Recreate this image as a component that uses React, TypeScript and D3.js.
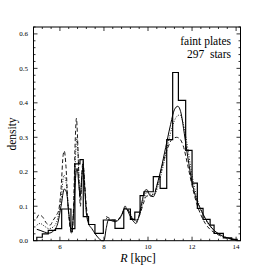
import React, { useEffect, useRef } from "react";
import * as d3 from "d3";

// histogram of the star sample (bin edges in kpc, density per bin)
const binEdges = [4.95, 5.2, 5.47, 5.8, 6.08, 6.5, 6.68, 6.91, 7.06, 7.3, 7.59, 7.97, 8.5, 8.9, 9.2, 9.4, 9.64, 9.82, 10.24, 10.55, 10.85, 11.12, 11.38, 11.71, 12.0, 12.24, 12.5, 12.82, 13.0, 13.42, 13.8, 14.05];
const binHeights = [0.01, 0.02, 0.03, 0.035, 0.092, 0.035, 0.223, 0.235, 0.07, 0.047, 0.021, 0.06, 0.036, 0.092, 0.062, 0.083, 0.131, 0.142, 0.186, 0.152, 0.293, 0.488, 0.407, 0.262, 0.167, 0.094, 0.062, 0.045, 0.021, 0.008, 0.004];

// smooth estimate (solid)
const solidR = [4.95, 5.1, 5.3, 5.5, 5.7, 5.9, 6.05, 6.2, 6.3, 6.42, 6.53, 6.62, 6.72, 6.78, 6.85, 6.92, 7.0, 7.05, 7.12, 7.2, 7.3, 7.45, 7.6, 7.75, 7.9, 8.0, 8.1, 8.2, 8.35, 8.5, 8.65, 8.8, 8.95, 9.05, 9.2, 9.35, 9.45, 9.6, 9.75, 9.85, 9.95, 10.1, 10.25, 10.4, 10.6, 10.8, 11.0, 11.2, 11.35, 11.5, 11.65, 11.8, 12.0, 12.2, 12.4, 12.6, 12.8, 13.0, 13.2, 13.5, 13.8, 14.0];
const solidD = [0.033, 0.03, 0.025, 0.022, 0.028, 0.05, 0.1, 0.15, 0.14, 0.07, 0.025, 0.08, 0.19, 0.21, 0.17, 0.13, 0.19, 0.215, 0.16, 0.08, 0.05, 0.035, 0.02, 0.008, 0.0, 0.0, 0.035, 0.06, 0.058, 0.055, 0.06, 0.075, 0.095, 0.09, 0.07, 0.055, 0.05, 0.075, 0.12, 0.145, 0.148, 0.13, 0.128, 0.16, 0.21, 0.27, 0.33, 0.38, 0.39, 0.37, 0.31, 0.245, 0.17, 0.12, 0.09, 0.065, 0.045, 0.03, 0.02, 0.01, 0.005, 0.002];

// dashed estimate (null = no value)
const dashR = [4.95, 5.05, 5.2, 5.4, 5.55, 5.7, 5.85, 5.95, 6.05, 6.15, 6.2, 6.27, 6.37, 6.48, 6.55, 6.62, 6.7, 6.75, 6.8, 6.88, 6.93, 7.0, 7.05, 7.12, 7.2, 7.3, 7.7, 8.1, 8.25, 8.4, 8.55, 8.7, 8.85, 8.95, 9.05, 9.2, 9.35, 9.5, 9.65, 9.8, 9.95, 10.1, 10.3, 10.5, 10.7, 10.9, 11.1, 11.3, 11.45, 11.6, 11.8, 12.0, 12.2, 12.4, 12.6, 12.8, 13.0, 13.25, 13.6, 14.0];
const dashD = [0.065, 0.075, 0.07, 0.05, 0.045, 0.06, 0.075, 0.09, 0.15, 0.25, 0.26, 0.22, 0.1, 0.03, 0.02, 0.1, 0.3, 0.355, 0.3, 0.15, 0.1, 0.2, 0.23, 0.17, 0.1, 0.06, null, 0.07, 0.065, 0.06, 0.06, 0.065, 0.08, 0.1, 0.095, 0.075, 0.06, 0.06, 0.08, 0.11, 0.13, 0.13, 0.14, 0.18, 0.23, 0.27, 0.295, 0.3, 0.295, 0.275, 0.22, 0.16, 0.11, 0.075, 0.05, 0.034, 0.024, 0.015, 0.007, 0.002];

// dotted estimate
const dotR = [4.95, 5.1, 5.3, 5.5, 5.7, 5.9, 6.05, 6.18, 6.28, 6.4, 6.53, 6.62, 6.72, 6.77, 6.83, 6.92, 7.0, 7.05, 7.12, 7.2, 7.3, 7.7, 8.1, 8.3, 8.5, 8.7, 8.85, 8.95, 9.1, 9.3, 9.45, 9.6, 9.8, 9.95, 10.1, 10.3, 10.5, 10.7, 10.9, 11.1, 11.3, 11.45, 11.6, 11.8, 12.0, 12.2, 12.4, 12.6, 12.8, 13.0, 13.3, 13.6, 14.0];
const dotD = [0.045, 0.05, 0.042, 0.035, 0.04, 0.065, 0.12, 0.19, 0.17, 0.08, 0.025, 0.09, 0.26, 0.3, 0.24, 0.12, 0.19, 0.22, 0.16, 0.09, 0.055, null, 0.065, 0.06, 0.058, 0.062, 0.08, 0.095, 0.09, 0.065, 0.055, 0.07, 0.12, 0.14, 0.135, 0.135, 0.17, 0.22, 0.28, 0.33, 0.36, 0.365, 0.34, 0.27, 0.19, 0.13, 0.09, 0.062, 0.043, 0.03, 0.017, 0.009, 0.003];

const xMajor = [6, 8, 10, 12, 14];
const yMajor = [0.0, 0.1, 0.2, 0.3, 0.4, 0.5, 0.6];
const annotation = ["faint plates", "297  stars"];

const App = () => {
  const svgRef = useRef<SVGSVGElement>(null);

  useEffect(() => {
    const svg = d3.select(svgRef.current);
    svg.selectAll("*").remove();

    const left = 33.5, right = 240.5, top = 27, bottom = 240.7;
    const x = d3.scaleLinear().domain([4.8, 14.2]).range([left, right]);
    const y = d3.scaleLinear().domain([0, 0.62]).range([bottom, top]);
    const font = "'Liberation Serif', serif";

    // frame
    svg.append("rect")
      .attr("x", left).attr("y", top)
      .attr("width", right - left).attr("height", bottom - top)
      .attr("fill", "none").attr("stroke", "#000").attr("stroke-width", 1);

    // ticks on all sides, pointing in
    const xMinor = d3.range(4.8, 14.21, 0.4).filter((v) => !xMajor.some((m) => Math.abs(m - v) < 1e-6));
    const yMinor = d3.range(0, 0.621, 0.02).filter((v) => !yMajor.some((m) => Math.abs(m - v) < 1e-6));
    const ticks = svg.append("g").attr("stroke", "#000").attr("stroke-width", 0.8);
    const xt = [...xMajor.map((v) => [v, 4]), ...xMinor.map((v) => [v, 2])];
    xt.forEach(([v, l]) => {
      ticks.append("line").attr("x1", x(v)).attr("x2", x(v)).attr("y1", bottom).attr("y2", bottom - l);
      ticks.append("line").attr("x1", x(v)).attr("x2", x(v)).attr("y1", top).attr("y2", top + l);
    });
    const yt = [...yMajor.map((v) => [v, 4]), ...yMinor.map((v) => [v, 2])];
    yt.forEach(([v, l]) => {
      ticks.append("line").attr("y1", y(v)).attr("y2", y(v)).attr("x1", left).attr("x2", left + l);
      ticks.append("line").attr("y1", y(v)).attr("y2", y(v)).attr("x1", right).attr("x2", right - l);
    });

    // tick labels
    svg.append("g").selectAll("text").data(xMajor).join("text")
      .attr("x", (d) => x(d)).attr("y", 249)
      .attr("text-anchor", "middle").attr("font-family", font).attr("font-size", 7)
      .text((d) => String(d));
    svg.append("g").selectAll("text").data(yMajor).join("text")
      .attr("x", 28).attr("y", (d) => y(d) + 2.5)
      .attr("text-anchor", "end").attr("font-family", font).attr("font-size", 7)
      .text((d) => d.toFixed(1));

    // axis labels
    const xl = svg.append("text").attr("x", 138).attr("y", 262)
      .attr("text-anchor", "middle").attr("font-family", font).attr("font-size", 12);
    xl.append("tspan").attr("font-style", "italic").text("R");
    xl.append("tspan").text(" [kpc]");
    svg.append("text").attr("transform", "translate(16,134) rotate(-90)")
      .attr("text-anchor", "middle").attr("font-family", font).attr("font-size", 11.5)
      .text("density");

    // annotation
    svg.append("g").selectAll("text").data(annotation).join("text")
      .attr("x", 231).attr("y", (_, i) => 45 + i * 13)
      .attr("text-anchor", "end").attr("font-family", font).attr("font-size", 11.5)
      .style("white-space", "pre")
      .text((d) => d);

    const plot = svg.append("g");

    // histogram as a step outline
    const steps: [number, number][] = [[binEdges[0], 0]];
    binHeights.forEach((h, i) => {
      steps.push([binEdges[i], h]);
      steps.push([binEdges[i + 1], h]);
    });
    steps.push([binEdges[binEdges.length - 1], 0]);
    plot.append("path")
      .attr("d", d3.line<[number, number]>().x((d) => x(d[0])).y((d) => y(d[1]))(steps))
      .attr("fill", "none").attr("stroke", "#000").attr("stroke-width", 1.2);

    const curve = (rs: number[], ds: (number | null)[], dash: string, w: number) => {
      const pts = rs.map((r, i) => [r, ds[i]] as [number, number | null]);
      const line = d3.line<[number, number | null]>()
        .defined((d) => d[1] !== null)
        .x((d) => x(d[0])).y((d) => y(d[1] as number))
        .curve(d3.curveMonotoneX);
      plot.append("path").attr("d", line(pts))
        .attr("fill", "none").attr("stroke", "#000").attr("stroke-width", w)
        .attr("stroke-dasharray", dash);
    };
    curve(dotR, dotD, "1,1.5", 0.9);
    curve(dashR, dashD, "4,2.5", 0.9);
    curve(solidR, solidD, "none", 1);
  }, []);

  return (
    <svg ref={svgRef} width={268} height={268}
      style={{ position: "absolute", left: 0, top: 0, background: "#fff" }} />
  );
};

export default App;
